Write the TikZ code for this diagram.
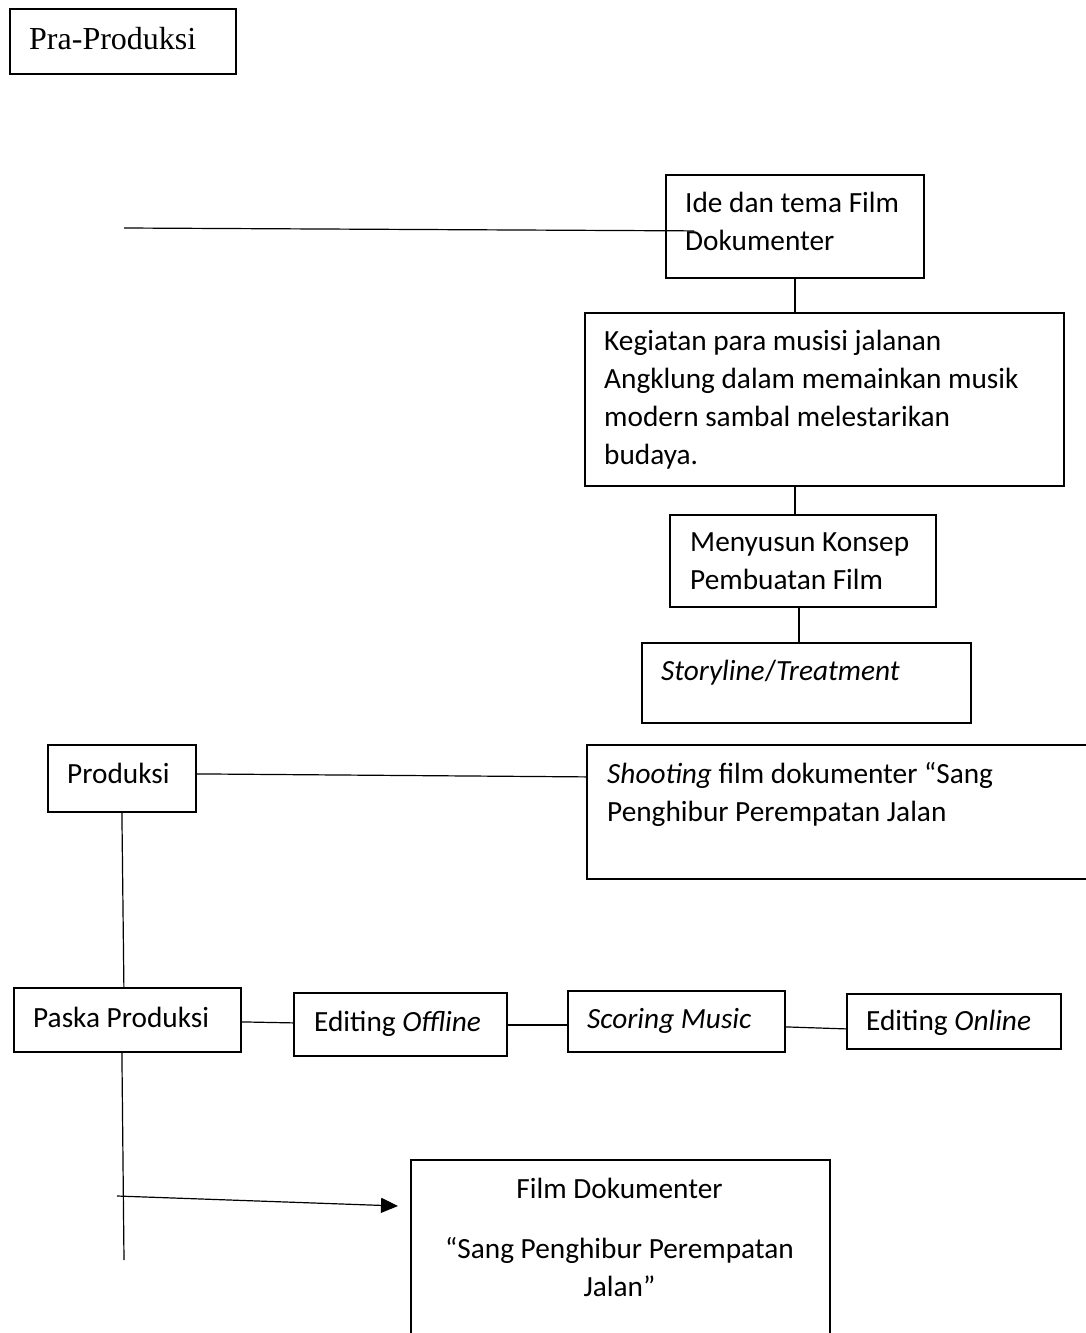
\documentclass[tikz,border=0pt]{standalone}
\usepackage{fontspec}
\setmainfont{Carlito}
\newfontfamily\timesf{Liberation Serif}
\usetikzlibrary{arrows.meta,calc}
\begin{document}
\begin{tikzpicture}[x=1pt,y=-1pt,
  box/.style={draw, line width=1.8pt, anchor=north west, inner sep=0pt, rectangle},
  conn/.style={line width=1.2pt},
  txt/.style={anchor=north west, inner sep=0pt, align=left, font=\fontsize{29.3}{38}\selectfont},
]
\useasboundingbox (0,0) rectangle (1085,1333);
% boxes
\node[box, minimum width=226pt, minimum height=65pt] (pra) at (9,8) {};
\node[box, minimum width=258pt, minimum height=103pt] (ide) at (665,174) {};
\node[box, minimum width=479pt, minimum height=173pt] (keg) at (584,312) {};
\node[box, minimum width=266pt, minimum height=92pt] (men) at (669,514) {};
\node[box, minimum width=329pt, minimum height=80pt] (sto) at (641,642) {};
\node[box, minimum width=148pt, minimum height=67pt] (prod) at (47,744) {};
\node[box, minimum width=504pt, minimum height=134pt] (shoot) at (586,744) {};
\node[box, minimum width=227pt, minimum height=64pt] (pas) at (13,987) {};
\node[box, minimum width=213pt, minimum height=63pt] (eoff) at (293,992) {};
\node[box, minimum width=217pt, minimum height=61pt] (scor) at (567,990) {};
\node[box, minimum width=214pt, minimum height=55pt] (eon) at (846,993) {};
\node[box, minimum width=419pt, minimum height=195pt] (film) at (410,1159) {};
% texts
\node[anchor=north west, inner sep=0pt, font=\timesf\fontsize{32}{38}\selectfont] (tpra) at (29,22.4) {\strut Pra-Produksi};
\node[txt] (tide) at (685,185.4) {\strut Ide dan tema Film\\Dokumenter};
\node[txt] (tkeg) at (604,323.4) {\strut Kegiatan para musisi jalanan\\Angklung dalam memainkan musik\\modern sambal melestarikan\\budaya.};
\node[txt] (tmen) at (690,524.4) {\strut Menyusun Konsep\\Pembuatan Film};
\node[txt] (tsto) at (661,653.4) {\strut\textit{Storyline}/\textit{Treatment}};
\node[txt] (tprod) at (67,756.4) {\strut Produksi};
\node[txt] (tshoot) at (607,756.4) {\strut\textit{Shooting} film dokumenter “Sang\\Penghibur Perempatan Jalan};
\node[txt] (tpas) at (33,1000.4) {\strut Paska Produksi};
\node[txt] (teoff) at (314,1004.4) {\strut Editing \textit{Offline}};
\node[txt] (tscor) at (587,1001.4) {\strut\textit{Scoring Music}};
\node[txt] (teon) at (866,1003.4) {\strut Editing \textit{Online}};
\node[txt, anchor=north, align=center] (tfilm) at (619.5,1171.4) {\strut Film Dokumenter\\[22pt]“Sang Penghibur Perempatan\\Jalan”};
% connectors
\coordinate (pl) at (124,228);
\draw[conn] (pl) -- ([shift={(29,4.5)}]ide.west);
\draw[conn] (ide.south) -- (ide.south |- keg.north);
\draw[conn] ([shift={(-8,0)}]men.north) -- ([shift={(-8,0)}]men.north |- keg.south);
\draw[conn] ([shift={(-4,0)}]men.south) -- ([shift={(-4,0)}]men.south |- sto.north);
\draw[conn] ([shift={(0,-4.5)}]prod.east) -- ([shift={(0,-35)}]shoot.west);
\draw[conn] (prod.south) -- ([shift={(-3.5,0)}]pas.north);
\draw[conn] ([shift={(0,2)}]pas.east) -- ([shift={(0,-1.5)}]eoff.west);
\draw[conn] ([shift={(0,0.5)}]eoff.east) -- ([shift={(0,3.5)}]scor.west);
\draw[conn] ([shift={(0,5.5)}]scor.east) -- ([shift={(0,7.5)}]eon.west);
\coordinate (pend) at (124,1260);
\draw[conn] ([shift={(-5.5,0)}]pas.south) -- (pend);
\coordinate (astart) at (117,1196);
\draw[conn, -{Triangle[length=17pt,width=15pt]}] (astart) -- ([shift={(-12,47)}]film.north west);
\end{tikzpicture}
\end{document}
